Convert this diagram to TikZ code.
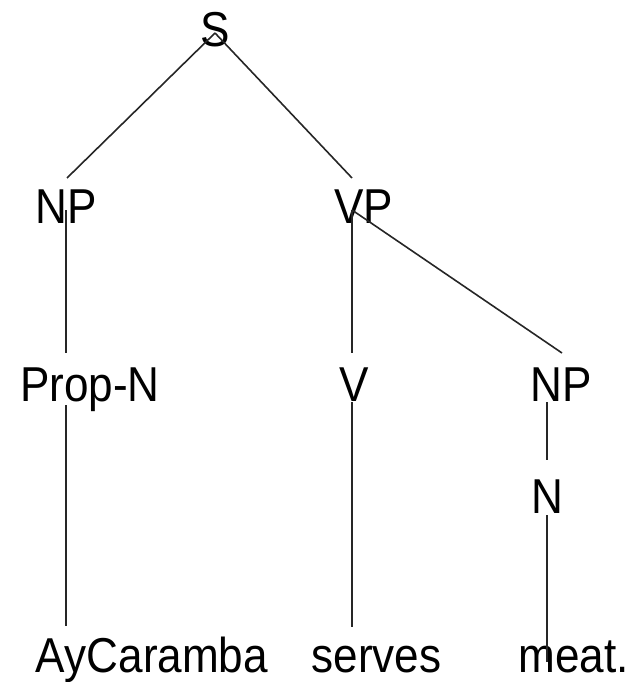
\documentclass[tikz,border=0pt]{standalone}
\usepackage{fontspec}
\setmainfont{Liberation Sans}[FakeStretch=0.9]
\begin{document}
\begin{tikzpicture}[x=1pt,y=-1pt,
  lbl/.style={inner sep=0pt, anchor=base, font=\fontsize{49}{49}\selectfont},
  edge/.style={line width=1.6pt, black!85}]
\useasboundingbox (0,0) rectangle (631,682);

% category and word labels
\node[lbl] (S)     at (215.5,47)  {S};
\node[lbl] (NP1)   at (66.5,223)  {NP};
\node[lbl] (VP)    at (363.5,223) {VP};
\node[lbl] (PropN) at (90,401)    {Prop-N};
\node[lbl] (V)     at (354.5,401) {V};
\node[lbl] (NP2)   at (561.5,401) {NP};
\node[lbl] (N)     at (547,513)   {N};
\node[lbl] (w1)    at (152,672)   {AyCaramba};
\node[lbl] (w2)    at (376.5,672) {serves};
\node[lbl] (w3)    at (573.5,672) {meat.};

% attachment points of the branches
\coordinate (S-b)     at (215,33);
\coordinate (NP1-t)   at (67,178);
\coordinate (NP1-b)   at (66,210);
\coordinate (VP-t)    at (352,178);
\coordinate (VP-b)    at (352,210);
\coordinate (PropN-t) at (66,353);
\coordinate (PropN-b) at (66,405);
\coordinate (V-t)     at (352,353);
\coordinate (V-b)     at (352,402);
\coordinate (NP2-t)   at (562,353);
\coordinate (NP2-b)   at (547,402);
\coordinate (N-t)     at (547,460);
\coordinate (N-b)     at (547,515);
\coordinate (w1-t)    at (66,626);
\coordinate (w2-t)    at (352,627);
\coordinate (w3-t)    at (547,662);

% branches
\draw[edge] (S-b) -- (NP1-t);
\draw[edge] (S-b) -- (VP-t);
\draw[edge] (NP1-b) -- (PropN-t);
\draw[edge] (VP-b) -- (V-t);
\draw[edge] (VP-b) -- (NP2-t);
\draw[edge] (PropN-b) -- (w1-t);
\draw[edge] (V-b) -- (w2-t);
\draw[edge] (NP2-b) -- (N-t);
\draw[edge] (N-b) -- (w3-t);
\end{tikzpicture}
\end{document}
